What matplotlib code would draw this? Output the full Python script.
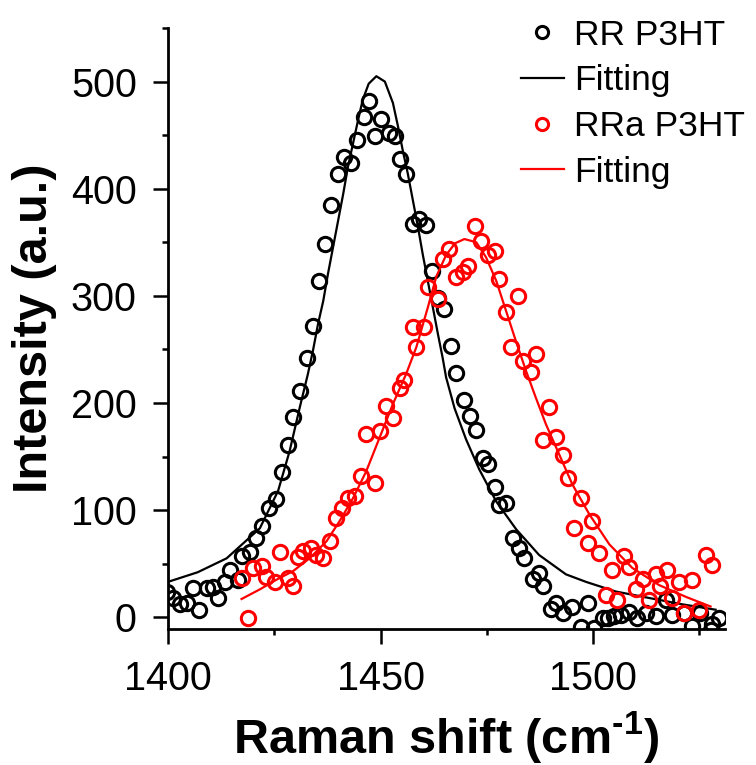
import numpy as np
import matplotlib.pyplot as plt

plt.rcParams['font.family'] = ['Liberation Sans', 'DejaVu Sans']
plt.rcParams['mathtext.fontset'] = 'custom'
plt.rcParams['mathtext.rm'] = 'Liberation Sans:bold'
plt.rcParams['mathtext.bf'] = 'Liberation Sans:bold'

# RR P3HT measured points (Raman shift, intensity)
rr_x = [1399.7, 1401.2, 1402.8, 1404.4, 1405.9, 1407.3, 1409.1, 1410.6, 1411.8, 1413.4,
        1414.6, 1416.5, 1417.5, 1419.4, 1420.7, 1422.2, 1423.8, 1425.4, 1426.9, 1428.2,
        1429.4, 1431.0, 1432.6, 1434.0, 1435.5, 1437.0, 1438.4, 1440.0, 1441.5, 1443.1,
        1444.5, 1446.0, 1447.3, 1448.8, 1450.2, 1451.9, 1453.3, 1454.5, 1456.0, 1457.7,
        1459.0, 1460.6, 1462.1, 1463.5, 1465.0, 1466.6, 1467.7, 1469.7, 1471.1, 1472.5,
        1474.0, 1475.2, 1476.8, 1477.9, 1479.5, 1481.1, 1482.6, 1483.8, 1485.8, 1487.3,
        1488.3, 1490.0, 1491.2, 1492.8, 1495.1, 1497.1, 1498.7, 1500.2, 1502.2, 1503.4,
        1504.9, 1506.5, 1508.5, 1510.4, 1512.4, 1514.7, 1517.1, 1518.6, 1521.4, 1523.3,
        1525.2, 1527.6, 1528.0, 1529.6]
rr_y = [24, 18, 12, 13, 27, 7, 27, 28, 18, 33,
        44, 35, 57, 61, 74, 85, 102, 110, 136, 161,
        187, 211, 242, 272, 314, 348, 385, 414, 430, 424,
        445, 467, 482, 449, 465, 452, 449, 428, 414, 367,
        372, 366, 323, 298, 288, 253, 228, 203, 188, 175,
        149, 143, 122, 105, 107, 74, 65, 55, 36, 41,
        29, 8, 13, 4, 10, -9, 13, -10, -1, -1,
        1, 2, 5, -1, 4, 1, 16, 2, 4, -8,
        4, -12, -6, -1]

# RR P3HT fitting curve
rr_fit_x = [1400.0, 1407.0, 1413.8, 1421.6, 1425.9, 1428.6, 1431.0, 1432.9, 1434.1, 1435.3,
            1436.5, 1437.6, 1438.8, 1440.0, 1441.2, 1442.3, 1443.5, 1444.7, 1445.8, 1447.2,
            1449.0, 1451.0, 1452.9, 1454.1, 1455.2, 1456.4, 1457.6, 1458.8, 1459.9, 1461.1,
            1462.3, 1463.5, 1464.6, 1465.4, 1467.4, 1470.1, 1473.2, 1477.2, 1481.9, 1487.3,
            1493.6, 1498.3, 1505.3, 1513.1, 1521.0, 1528.8]
rr_fit_y = [33, 42, 55, 83, 118, 155, 196, 227, 249, 274,
            295, 320, 345, 370, 395, 420, 442, 464, 483, 498,
            505, 500, 480, 458, 436, 414, 389, 364, 339, 314,
            289, 264, 242, 224, 195, 166, 138, 108, 82, 58,
            40, 33, 24, 18, 12, 7]

# RRa P3HT measured points
rra_x = [1417.3, 1418.9, 1420.0, 1422.0, 1423.1, 1425.1, 1426.3, 1428.2, 1429.3, 1430.6,
         1431.8, 1433.7, 1434.9, 1436.5, 1438.0, 1439.6, 1441.0, 1442.3, 1443.9, 1445.5,
         1446.6, 1448.6, 1449.8, 1451.3, 1452.9, 1454.5, 1455.6, 1457.6, 1458.4, 1460.3,
         1461.1, 1463.5, 1464.6, 1466.2, 1467.7, 1469.3, 1470.5, 1472.1, 1473.6, 1475.2,
         1476.8, 1477.9, 1479.5, 1480.6, 1482.2, 1483.4, 1485.4, 1486.5, 1488.1, 1489.7,
         1491.2, 1492.8, 1494.0, 1495.5, 1497.1, 1498.7, 1499.8, 1501.4, 1503.0, 1504.5,
         1505.7, 1507.3, 1508.5, 1510.0, 1511.6, 1513.1, 1514.7, 1515.8, 1517.4, 1518.6,
         1520.2, 1521.4, 1523.3, 1524.9, 1526.5, 1528.0]
rra_y = [37, -1, 46, 48, 38, 33, 61, 37, 29, 56,
         62, 65, 58, 55, 71, 93, 102, 111, 113, 132,
         171, 125, 174, 197, 186, 214, 221, 271, 252, 271,
         308, 297, 334, 344, 318, 322, 328, 365, 351, 338,
         342, 316, 285, 252, 300, 239, 229, 246, 165, 196,
         168, 151, 130, 83, 111, 69, 90, 60, 21, 44,
         16, 57, 47, 26, 36, 16, 40, 29, 44, 18,
         33, 4, 35, 7, 58, 49]

# RRa P3HT fitting curve
rra_fit_x = [1417.3, 1421.6, 1425.5, 1429.4, 1433.3, 1437.3, 1440.4, 1443.5, 1446.6, 1449.8,
             1452.9, 1456.0, 1458.4, 1461.1, 1463.1, 1465.4, 1467.5, 1469.7, 1472.5, 1474.8,
             1477.2, 1479.5, 1481.8, 1484.2, 1486.5, 1488.9, 1492.0, 1495.1, 1499.1, 1503.8,
             1509.2, 1515.5, 1521.8, 1527.6]
rra_fit_y = [17, 26, 35, 43, 55, 71, 90, 111, 136, 168,
             199, 227, 252, 289, 318, 338, 349, 353, 350, 336,
             314, 286, 258, 230, 205, 180, 152, 124, 96, 68,
             46, 30, 19, 10]

fig = plt.figure(figsize=(7.56, 7.65), dpi=100)
ax = fig.add_axes([168 / 756, 136 / 765, 557 / 756, 601 / 765])

mk = dict(marker='o', linestyle='none', markerfacecolor='none', markersize=10.3, markeredgewidth=2.2)
ax.plot(rr_x, rr_y, color='black', label='RR P3HT', **mk)
ax.plot(rr_fit_x, rr_fit_y, color='black', lw=1.6, label='Fitting')
ax.plot(rra_x, rra_y, color='red', label='RRa P3HT', **mk)
ax.plot(rra_fit_x, rra_fit_y, color='red', lw=1.6, label='Fitting')

ax.set_xlim(1400, 1531)
ax.set_ylim(-11, 550)
ax.set_xticks([1400, 1450, 1500])
ax.set_xticks([1425, 1475, 1525], minor=True)
ax.set_yticks([0, 100, 200, 300, 400, 500])
ax.set_yticks([50, 150, 250, 350, 450, 550], minor=True)

for side in ['top', 'right']:
    ax.spines[side].set_visible(False)
for side in ['left', 'bottom']:
    ax.spines[side].set_linewidth(2)
ax.tick_params(which='major', direction='out', length=10.5, width=1.8, labelsize=28.5, pad=12)
ax.tick_params(which='minor', direction='out', length=4.5, width=1.8)

ax.set_xlabel('Raman shift (cm$^{\\text{-1}}$)', fontsize=35, fontweight='bold', labelpad=8)
ax.set_ylabel('Intensity (a.u.)', fontsize=35, fontweight='bold', labelpad=10)

ax.legend(loc='upper left', bbox_to_anchor=(514 / 756, 0.985), bbox_transform=fig.transFigure,
          frameon=False, fontsize=25.5, handlelength=1.2, handletextpad=0.3,
          labelspacing=0.36, borderpad=0.2, borderaxespad=0, markerscale=0.85)

fig.savefig('out.png', dpi=100)
